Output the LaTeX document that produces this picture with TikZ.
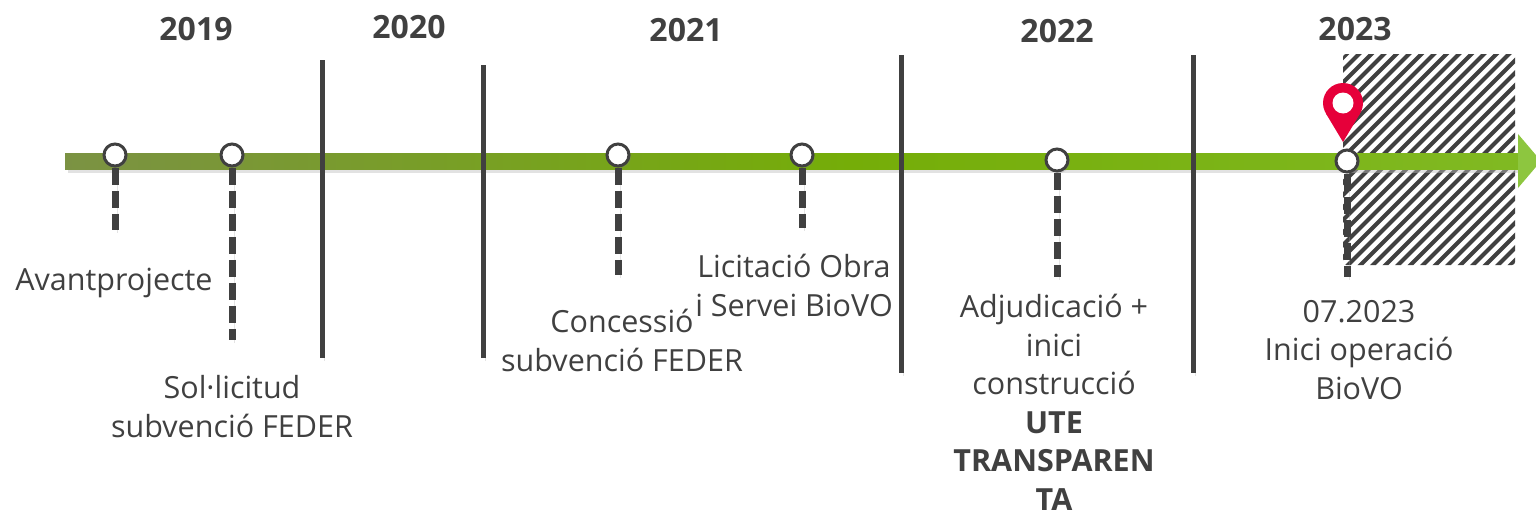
\documentclass[tikz,border=0pt]{standalone}
\usepackage{fontspec}
\setmainfont{Open Sans}
\usetikzlibrary{shadows}

\definecolor{ink}{HTML}{404040}
\definecolor{axgray}{HTML}{80807A}
\definecolor{axolive}{HTML}{7A9638}
\definecolor{axmid}{HTML}{75AD08}
\definecolor{axgreen}{HTML}{8DC63F}
\definecolor{pinred}{HTML}{E6003A}

\pgfdeclarehorizontalshading{axisgrad}{100bp}{color(0bp)=(axgray); color(30bp)=(axolive); color(52bp)=(axmid); color(100bp)=(axgreen)}

\tikzset{
  soft/.style={preaction={draw=black!35,opacity=0.3,transform canvas={shift={(2.5pt,-2.5pt)}}}},
  bar/.style={draw=ink,line width=5pt,soft},
  stem/.style={draw=ink,line width=7pt,dash pattern=on 17pt off 6pt,soft},
}

\begin{document}
\begin{tikzpicture}[x=1pt,y=-1pt]
  \useasboundingbox (0,0) rectangle (1536,517);

  % zona ratllada
  \begin{scope}
    \clip[rounded corners=3pt] (1343,54) rectangle (1515,265);
    \foreach \i in {-230,-217.5,...,190}
      \draw[ink,line width=4pt] (1343+\i,275) -- ++(260,-260);
  \end{scope}

  % eix
  \fill[black!25,opacity=0.45] (68,157) rectangle (1522,173);
  \shade[shading=axisgrad] (65,153) rectangle (1519,169);
  \fill[axgreen] (1518,134) -- (1541,161) -- (1518,188) -- cycle;

  % separadors d'any
  \foreach \x/\t/\b in {322/60/358, 483/65/358, 901/55/373, 1193/55/373}
    \draw[bar] (\x,\t) -- (\x,\b);

  \begin{scope}[every node/.style={circle,draw=ink,line width=3pt,fill=white,minimum size=22pt,inner sep=0pt,
      drop shadow={opacity=0.25,shadow xshift=2pt,shadow yshift=-2pt}}]
    \node (e1) at (115,155) {};
    \node (e2) at (232,155) {};
    \node (e3) at (618,155) {};
    \node (e4) at (802,155) {};
    \node (e5) at (1057,160) {};
    \node (e6) at (1347,161) {};
  \end{scope}

  \coordinate (d1) at (115,230);
  \coordinate (d2) at (232,340);
  \coordinate (d3) at (618,275);
  \coordinate (d4) at (802,228);
  \coordinate (d5) at (1057,277);
  \coordinate (d6) at (1347,277);

  \foreach \n in {1,...,6}
    \draw[stem] (e\n) -- (d\n);

  % marcador
  \coordinate (pin) at (1343,103);
  \fill[pinred] (1343,142) -- (1325.8,113.3) -- (1360.2,113.3) -- cycle;
  \fill[pinred] (pin) circle[radius=20pt];
  \fill[white] (pin) circle[radius=10.5pt];

  \begin{scope}[every node/.style={text=ink,font=\bfseries\fontsize{32}{38}\selectfont,anchor=base}]
    \node (y19) at (196,40) {2019};
    \node (y20) at (409,38) {2020};
    \node (y21) at (686,41) {2021};
    \node (y22) at (1057,42) {2022};
    \node (y23) at (1355,40) {2023};
  \end{scope}

  % base = darrera linia
  \begin{scope}[every node/.style={text=ink,font=\fontsize{30.5}{38.5}\selectfont,align=center,anchor=base}]
    \node (l1) at (114,290) {Avantprojecte};
    \node (l2) at (232,437) {Sol·licitud\\subvenció FEDER};
    \node (l3) at (622,371) {Concessió\\subvenció FEDER};
    \node (l4) at (794,316) {Licitació Obra\\i Servei BioVO};
    \node (l5) at (1054,510) {Adjudicació +\\inici\\construcció\\\textbf{UTE}\\\textbf{TRANSPAREN}\\\textbf{TA}};
    \node (l6) at (1359,399) {07.2023\\Inici operació\\BioVO};
  \end{scope}

\end{tikzpicture}
\end{document}
